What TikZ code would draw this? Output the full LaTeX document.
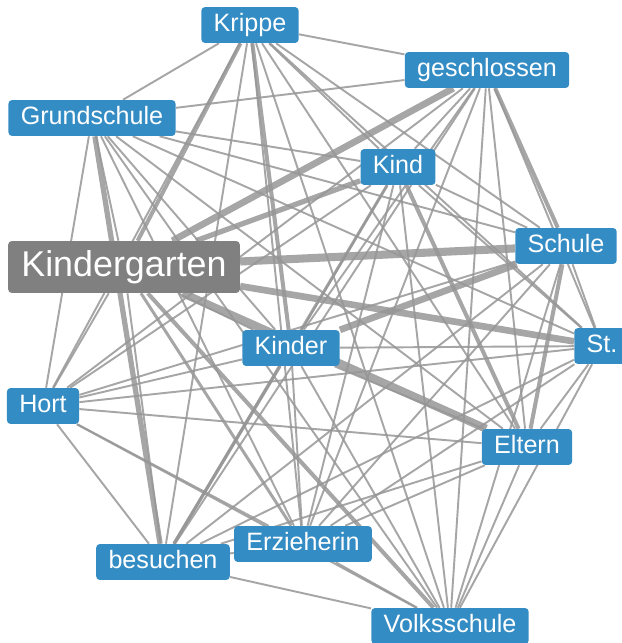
\documentclass[tikz,border=0pt]{standalone}
\usepackage{fontspec}
\setmainfont{Liberation Sans}
\definecolor{wordblue}{RGB}{52,140,196}
\definecolor{hubgray}{RGB}{128,128,128}
\definecolor{linkgray}{RGB}{150,150,150}
\pgfdeclarelayer{background}
\pgfsetlayers{background,main}

\begin{document}
\begin{tikzpicture}[x=0.02cm,y=-0.02cm,
  every edge/.style={draw=linkgray,draw opacity=0.85,line width=1.1pt},
  w2/.style={line width=1.7pt},
  w3/.style={line width=2.3pt},
  w4/.style={line width=3pt},
  w5/.style={line width=3.8pt},
  w6/.style={line width=4.6pt}]
	\tikzstyle{word}=[fill=wordblue,text=white,rounded corners=2pt,inner xsep=7pt,inner ysep=0pt,
	  minimum height=20.4pt,text height=10.3pt,text depth=2.6pt,font=\fontsize{14.3}{16}\selectfont]
	\tikzstyle{hub}=[word,fill=hubgray,minimum height=29.5pt,inner xsep=7.5pt,
	  text height=14.7pt,text depth=3.6pt,font=\fontsize{20.4}{24}\selectfont]

	\useasboundingbox (0,0) rectangle (622,643);

	\node[word] (KR) at (250,25) {Krippe};
	\node[word] (GE) at (487,70) {geschlossen};
	\node[word] (GR) at (92,118) {Grundschule};
	\node[word] (KI) at (398,167) {Kind};
	\node[hub] (KG) at (124,267) {Kindergarten};
	\node[word] (SC) at (566,246) {Schule};
	\node[word] (KN) at (291,348) {Kinder};
	\node[word] (ST) at (602,346) {St.};
	\node[word] (HO) at (43,406) {Hort};
	\node[word] (EL) at (527,447) {Eltern};
	\node[word] (ER) at (303,544) {Erzieherin};
	\node[word] (BE) at (163,562) {besuchen};
	\node[word] (VO) at (450,626) {Volksschule};

	\begin{pgfonlayer}{background}
	\path (KR) edge (GE) edge (GR) edge (KI) edge[w3] (KG) edge (SC) edge[w3] (KN)
	           edge (ST) edge (HO) edge (EL) edge (ER) edge (BE) edge (VO);
	\path (GE) edge (GR) edge (KI) edge[w5] (KG) edge[w3] (SC) edge (KN) edge (ST)
	           edge (HO) edge (EL) edge (ER) edge (BE) edge (VO);
	\path (GR) edge (KI) edge (KG) edge (SC) edge (KN) edge (ST) edge (HO)
	           edge (EL) edge (ER) edge[w4] (BE) edge (VO);
	\path (KI) edge[w4] (KG) edge (SC) edge (KN) edge (ST) edge (HO) edge[w3] (EL)
	           edge (ER) edge[w2] (BE) edge (VO);
	\path (KG) edge[w6] (SC) edge (KN) edge[w5] (ST) edge (HO) edge[w6] (EL)
	           edge[w2] (ER) edge (BE) edge[w3] (VO);
	\path (SC) edge[w5] (KN) edge (ST) edge (HO) edge[w3] (EL) edge (ER) edge (BE) edge (VO);
	\path (KN) edge (ST) edge (HO) edge (EL) edge (ER) edge[w2] (BE) edge (VO);
	\path (ST) edge (HO) edge (EL) edge (ER) edge (BE) edge (VO);
	\path (HO) edge (EL) edge (ER) edge (BE) edge (VO);
	\path (EL) edge (ER) edge (BE) edge (VO);
	\path (ER) edge (BE) edge (VO);
	\path (BE) edge (VO);
	\end{pgfonlayer}
\end{tikzpicture}
\end{document}
